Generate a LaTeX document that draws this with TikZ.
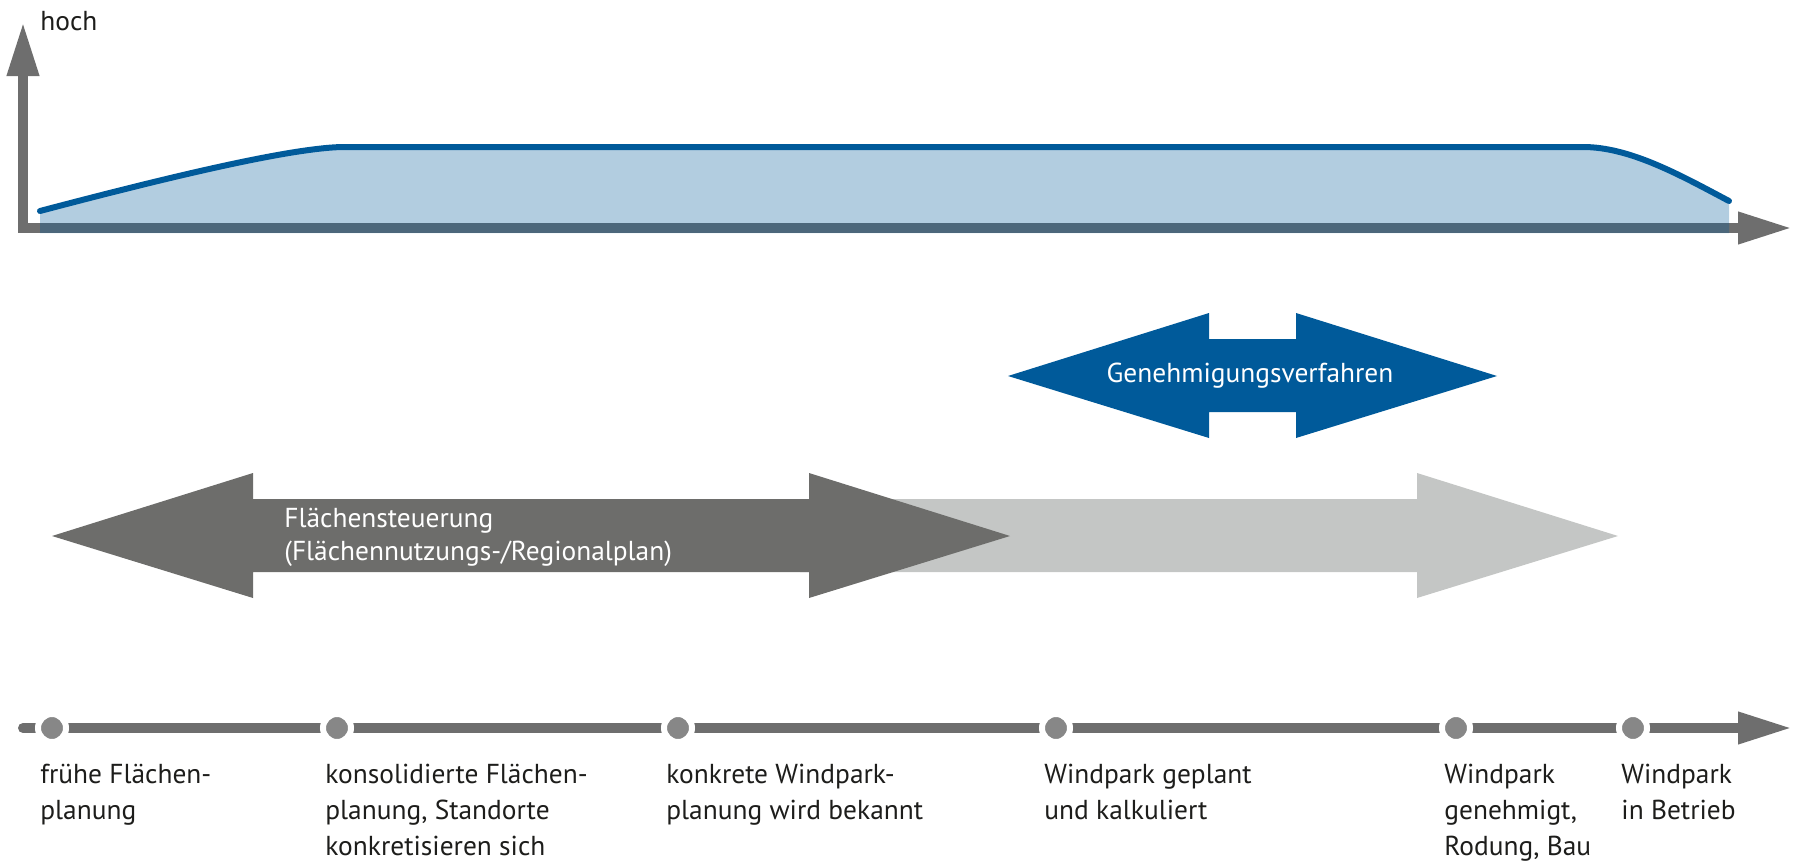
\documentclass[tikz,border=0pt]{standalone}
\usepackage{fontspec}
\setmainfont{PT Sans}
\usetikzlibrary{arrows.meta}
\definecolor{achsgrau}{RGB}{110,110,110}
\definecolor{punktgrau}{RGB}{135,135,135}
\definecolor{dunkelgrau}{RGB}{109,109,107}
\definecolor{hellgrau}{RGB}{196,198,197}
\definecolor{blau}{RGB}{0,90,154}
\definecolor{schrift}{RGB}{29,29,27}
\begin{document}
\begin{tikzpicture}[x=0.5pt,y=-0.5pt,line join=miter,>={Triangle[length=27pt,width=15pt]},
  achse/.style={line width=5pt,achsgrau},
  kurve/.style={line width=3pt,blau,line cap=round},
  punkt/.style={circle,fill=punktgrau,draw=white,line width=3pt,minimum size=14pt,inner sep=0pt},
  etikett/.style={anchor=north west,align=left,inner sep=0pt,text=schrift,font=\fontsize{13.7}{18}\selectfont},
  pfeiltext/.style={text=white,align=left,inner sep=0pt,font=\fontsize{13.7}{16.5}\selectfont}]
\useasboundingbox (0,0) rectangle (1796,862);

% Achsen oben
\coordinate (ursprung) at (23,228);
\coordinate (yspitze) at (23,22);
\coordinate (xspitze) at (1792,228);
\draw[achse,<->] (yspitze) -- (ursprung) -- (xspitze);
\node[anchor=base west,inner sep=0pt,text=schrift,font=\fontsize{13.7}{16}\selectfont] (hoch) at (40,31) {hoch};

% Verlauf
\fill[blau,opacity=.3] (40,233) -- (40,211) .. controls (150,182) and (290,147) .. (345,147) -- (1583,147)
  .. controls (1630,147) and (1680,175) .. (1729,201) -- (1729,233) -- cycle;
\draw[kurve] (40,211) .. controls (150,182) and (290,147) .. (345,147) -- (1583,147)
  .. controls (1630,147) and (1680,175) .. (1729,201);

% Pfeile
\fill[hellgrau] (800,499) -- (1417,499) -- (1417,473) -- (1618,536) -- (1417,598) -- (1417,572) -- (800,572) -- cycle;
\fill[dunkelgrau] (52,536) -- (253,473) -- (253,499) -- (809,499) -- (809,473) -- (1010,536)
  -- (809,598) -- (809,572) -- (253,572) -- (253,598) -- cycle;
\node[pfeiltext,anchor=west] (steuerung) at (284,537) {Flächensteuerung\\(Flächennutzungs-/Regionalplan)};

\fill[blau] (1008,376) -- (1209,313) -- (1209,339) -- (1296,339) -- (1296,313) -- (1497,376)
  -- (1296,438) -- (1296,412) -- (1209,412) -- (1209,438) -- cycle;
\node[pfeiltext] (genehmigung) at (1250,376) {Genehmigungsverfahren};

% Zeitstrahl
\coordinate (zanfang) at (23,728);
\coordinate (zende) at (1792,728);
\draw[achse,line cap=round,->] (zanfang) -- (zende);
\foreach \n/\x/\txt in {1/52/{frühe Flächen-\\planung},
  2/337/{konsolidierte Flächen-\\planung, Standorte\\konkretisieren sich},
  3/678/{konkrete Windpark-\\planung wird bekannt},
  4/1056/{Windpark geplant\\und kalkuliert},
  5/1456/{Windpark\\genehmigt,\\Rodung, Bau},
  6/1633/{Windpark\\in Betrieb}}{
  \node[punkt] (p\n) at (\x,728) {};
  \node[etikett] (l\n) at (\x-12,764) {\txt};
}
\end{tikzpicture}
\end{document}
